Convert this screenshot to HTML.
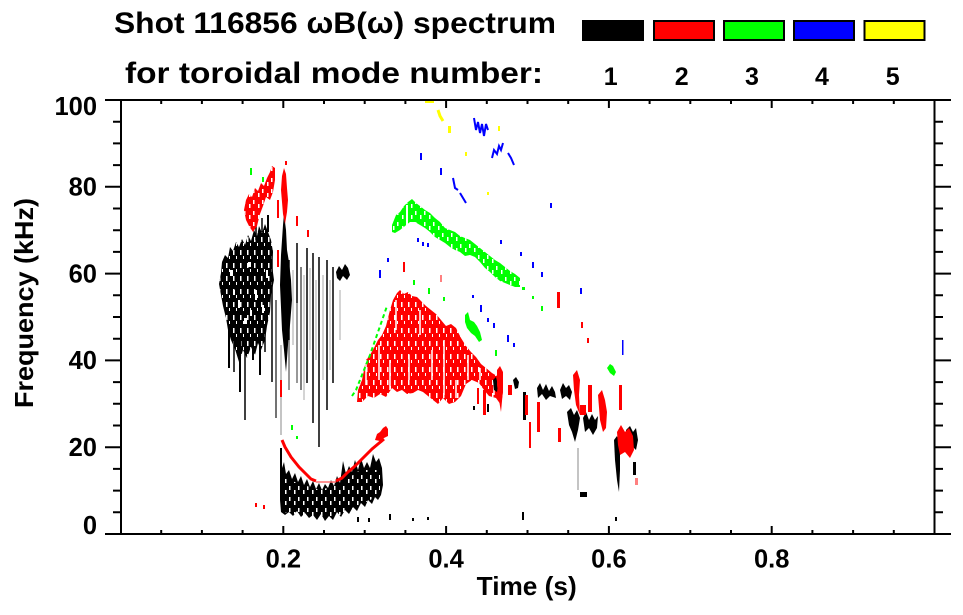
<!DOCTYPE html>
<html><head><meta charset="utf-8"><style>
html,body{margin:0;padding:0;background:#fff;}
svg{display:block;}
text{font-family:"Liberation Sans",Arial,sans-serif;font-weight:bold;fill:#000;}
</style></head><body>
<svg width="963" height="615" viewBox="0 0 963 615" xmlns="http://www.w3.org/2000/svg">
<defs>
<pattern id="speck" width="7" height="13" patternUnits="userSpaceOnUse">
<rect x="2" y="3" width="1.5" height="5" fill="#fff"/>
<rect x="5" y="9" width="1" height="3" fill="#fff"/>
</pattern>
<pattern id="speck2" width="9" height="11" patternUnits="userSpaceOnUse">
<rect x="1" y="2" width="1.5" height="4" fill="#fff"/>
<rect x="6" y="6" width="1.5" height="4" fill="#fff"/>
</pattern>
</defs>
<rect width="963" height="615" fill="#fff"/>

<!-- ===== DATA ===== -->
<!-- black blob A -->
<polygon fill="#000" points="222,262 225,255 228,258 230,247 233,251 236,242 239,247 242,239 245,245 248,235 251,241 254,230 257,236 259,226 262,233 265,224 268,232 271,240 273,252 272,265 274,280 271,295 270,312 267,326 265,340 261,350 258,343 255,355 251,347 247,358 243,350 239,362 235,349 231,340 228,330 226,318 223,306 221,295 219,284 221,273"/>
<polygon fill="url(#speck)" points="222,262 225,255 228,258 230,247 233,251 236,242 239,247 242,239 245,245 248,235 251,241 254,230 257,236 259,226 262,233 265,224 268,232 271,240 273,252 272,265 274,280 271,295 270,312 267,326 265,340 261,350 258,343 255,355 251,347 247,358 243,350 239,362 235,349 231,340 228,330 226,318 223,306 221,295 219,284 221,273"/>
<g fill="#fff">
<rect x="230" y="270" width="3" height="6"/><rect x="238" y="300" width="2" height="8"/><rect x="248" y="262" width="3" height="5"/>
<rect x="255" y="290" width="2" height="10"/><rect x="262" y="305" width="2" height="8"/><rect x="244" y="318" width="3" height="6"/>
<rect x="233" y="290" width="2" height="5"/><rect x="266" y="270" width="2" height="8"/><rect x="250" y="310" width="2" height="6"/>
</g>
<g stroke="#000" fill="none">
<path d="M229,330V368M240,340V392M253,340V360M260,335V375" stroke-width="2"/>
<path d="M234,340V372M245,345V420M265,330V352M272,250V382M256,222V240M262,218V232" stroke-width="1.5"/>
<path d="M268,215V232" stroke-width="2"/>
<path d="M276,300V418" stroke-width="1.5" stroke="#444"/>
</g>
<!-- black column t=0.2 -->
<polygon fill="#000" points="280,285 281,255 283,225 284,214 286,230 287,250 289,262 291,280 292,300 290,325 288,345 286,372 284,350 282,330"/>
<path d="M281,345V435" stroke="#888" stroke-width="1" fill="none"/>
<!-- comb lines -->
<g fill="none" stroke-width="1.5">
<path d="M289,260V340M297,243V303M307,248V383M313,253V423M319,257V447M327,260V410M333,267V383" stroke="#000"/>
<path d="M289,340V390M297,303V383" stroke="#777"/>
<path d="M301,267V390" stroke="#555"/>
<path d="M293,270V345M304,275V400M310,268V350M316,280V360M323,275V380M330,280V370M340,290V340" stroke="#aaa" stroke-width="1"/>
</g>
<polygon fill="#000" points="336,272 339,266 342,270 345,264 348,268 350,275 347,280 343,276 340,281 337,278"/>

<!-- black low band -->
<polygon fill="#000" points="280,448 282,448 282,468 284,462 286,474 289,470 292,479 295,473 298,482 301,476 304,485 307,479 310,487 313,481 316,489 319,483 322,490 325,484 328,488 331,480 334,486 337,476 340,483 343,461 346,474 349,466 352,472 355,460 358,470 361,458 364,468 367,462 370,468 373,454 376,462 379,458 382,468 383,485 381,495 378,500 375,497 372,504 368,500 365,507 361,503 357,511 353,507 349,514 345,510 341,517 337,512 333,520 329,516 325,521 321,514 317,520 313,515 309,518 305,513 301,517 297,511 293,516 289,512 285,515 281,512 280,500"/>
<polygon fill="url(#speck2)" points="284,478 300,484 320,490 340,484 360,470 380,470 380,495 360,505 340,515 320,518 300,515 284,512"/>

<!-- red arc -->
<g fill="none" stroke="#f00" stroke-linejoin="round">
<path d="M282,440 L285,447 288,452 291,457 295,462 299,467 303,471 307,475 311,479 316,481" stroke-width="3"/>
<path d="M316,482 L336,482" stroke-width="1.5" stroke="#ff7070"/>
<path d="M336,481 L342,478 348,472 354,467 360,461 366,455 372,449 378,444 384,439" stroke-width="3"/>
</g>
<polygon fill="#f00" points="375,440 377,434 380,432 383,428 386,426 388,429 388,436 384,438 380,441"/>

<!-- red early cluster -->
<polygon fill="#f00" points="244,210 246,200 249,194 252,197 255,188 258,191 261,183 264,186 267,178 270,172 272,166 275,168 275,180 273,192 270,200 266,197 263,206 260,214 257,226 253,232 249,226 246,220"/>
<polygon fill="url(#speck2)" points="244,210 246,200 249,194 252,197 255,188 258,191 261,183 264,186 267,178 270,172 272,166 275,168 275,180 273,192 270,200 266,197 263,206 260,214 257,226 253,232 249,226 246,220"/>
<polygon fill="#f00" points="281,190 282,176 284,168 286,174 287,188 288,200 287,212 285,224 283,214 282,202"/>
<g fill="#f00">
<rect x="285" y="161" width="2" height="4"/><rect x="296" y="216" width="2" height="10"/><rect x="307" y="230" width="2" height="7"/>
<rect x="277" y="200" width="2" height="18"/><rect x="277" y="250" width="2" height="17"/><rect x="280" y="380" width="2" height="17"/>
<rect x="255" y="503" width="2" height="4"/><rect x="263" y="505" width="2" height="4"/>
</g>

<!-- red main blob -->
<polygon fill="#f00" points="357,402 358,390 362,380 366,360 370,355 374,348 378,340 382,335 386,326 390,310 393,300 397,293 400,290 404,294 408,292 412,296 417,297 421,301 426,306 431,310 436,314 441,320 446,326 451,324 456,328 461,338 466,346 471,352 476,357 481,364 486,368 492,373 497,376 502,383 503,392 501,405 496,398 489,396 484,390 479,383 472,380 466,384 461,396 455,402 449,404 443,398 438,404 433,400 428,396 423,392 418,390 413,393 407,394 402,390 397,392 392,388 386,397 380,394 374,398 368,396 362,402"/>
<polygon fill="url(#speck)" points="357,402 358,390 362,380 366,360 370,355 374,348 378,340 382,335 386,326 390,310 393,300 397,293 400,290 404,294 408,292 412,296 417,297 421,301 426,306 431,310 436,314 441,320 446,326 451,324 456,328 461,338 466,346 471,352 476,357 481,364 486,368 492,373 497,376 502,383 503,392 501,405 496,398 489,396 484,390 479,383 472,380 466,384 461,396 455,402 449,404 443,398 438,404 433,400 428,396 423,392 418,390 413,393 407,394 402,390 397,392 392,388 386,397 380,394 374,398 368,396 362,402"/>
<path fill="none" stroke="#fff" stroke-width="1.5" d="M366,360V385M379,345V380M390,360V390M396,300V330M409,355V380M420,310V335M432,350V380M444,340V395M456,380V398M468,355V380M480,368V380M494,380V395"/>

<!-- green band -->
<polygon fill="#0f0" points="392,225 396,215 400,212 404,206 408,202 412,199 416,203 420,206 425,210 430,213 435,218 440,222 445,228 450,230 455,232 460,236 465,238 470,240 475,244 480,248 485,252 490,256 495,260 500,263 505,267 510,271 515,274 520,278 520,287 515,287 510,285 505,283 500,281 495,277 490,272 485,268 480,262 475,257 470,255 465,256 460,252 455,250 450,247 445,243 440,240 435,237 430,232 425,228 420,225 415,222 410,222 405,226 400,230 395,233 392,232"/>
<polygon fill="url(#speck2)" points="392,225 396,215 400,212 404,206 408,202 412,199 416,203 420,206 425,210 430,213 435,218 440,222 445,228 450,230 455,232 460,236 465,238 470,240 475,244 480,248 485,252 490,256 495,260 500,263 505,267 510,271 515,274 520,278 520,287 515,287 510,285 505,283 500,281 495,277 490,272 485,268 480,262 475,257 470,255 465,256 460,252 455,250 450,247 445,243 440,240 435,237 430,232 425,228 420,225 415,222 410,222 405,226 400,230 395,233 392,232"/>
<path d="M407,205V228" stroke="#fff" stroke-width="2"/>
<path d="M352,396 L356,390 362,375 370,355 378,332 387,306" fill="none" stroke="#0f0" stroke-width="2" stroke-dasharray="4 3"/>
<polygon fill="#0f0" points="465,315 468,312 470,320 474,322 477,326 480,332 482,340 479,342 475,336 471,333 467,328 465,322"/>
<polygon fill="#0f0" points="607,368 610,364 613,366 616,372 614,376 610,373"/>
<g fill="#0f0">
<rect x="413" y="280" width="2" height="5"/><rect x="428" y="288" width="2" height="6"/><rect x="443" y="297" width="2" height="4"/>
<rect x="495" y="350" width="2" height="6"/><rect x="522" y="287" width="3" height="3"/><rect x="532" y="296" width="2" height="3"/>
<rect x="541" y="306" width="2" height="5"/><rect x="250" y="168" width="2" height="7"/><rect x="262" y="177" width="2" height="5"/>
<rect x="291" y="425" width="2" height="5"/><rect x="296" y="436" width="2" height="3"/>
</g>

<!-- blue -->
<g fill="none" stroke="#00f" stroke-width="2">
<path d="M474,118 L476,130 478,122 480,133 482,124 484,136 486,124 488,130"/>
<path d="M492,158 L494,150 497,154 499,146 501,150 503,143"/>
<path d="M508,153 L511,158 514,165"/>
<path d="M453,178 L455,188 458,190M460,193 L463,198 466,203"/>
</g>
<g fill="#00f">
<rect x="420" y="153" width="2" height="7"/><rect x="440" y="168" width="2" height="7"/><rect x="550" y="203" width="2" height="5"/>
<rect x="417" y="238" width="2" height="4"/><rect x="422" y="242" width="2" height="4"/><rect x="427" y="243" width="2" height="4"/>
<rect x="500" y="240" width="2" height="4"/><rect x="520" y="252" width="2" height="4"/><rect x="532" y="262" width="2" height="6"/>
<rect x="541" y="272" width="2" height="5"/><rect x="580" y="288" width="2" height="6"/><rect x="472" y="295" width="2" height="3"/>
<rect x="480" y="305" width="2" height="7"/><rect x="487" y="318" width="2" height="4"/><rect x="493" y="323" width="2" height="5"/>
<rect x="507" y="335" width="2" height="7"/><rect x="513" y="343" width="2" height="4"/><rect x="622" y="340" width="1.5" height="15"/>
<rect x="379" y="270" width="2" height="8"/><rect x="387" y="258" width="2" height="4"/>
</g>

<!-- yellow -->
<g fill="#ff0">
<rect x="425" y="99" width="9" height="4"/>
<rect x="448" y="126" width="3" height="7"/><rect x="498" y="126" width="2" height="5"/>
<rect x="465" y="152" width="2" height="4"/><rect x="487" y="192" width="2" height="3"/>
</g>
<path d="M438,110 L440,116 443,121" fill="none" stroke="#ff0" stroke-width="3"/>

<!-- black right-mid -->
<g fill="#000">
<polygon points="513,380 516,377 519,382 518,388 515,389"/>
<polygon points="493,380 496,377 498,385 497,392 494,390"/>
<rect x="523" y="392" width="3" height="28"/>
<polygon points="537,388 540,383 543,390 546,384 549,391 552,386 555,392 556,398 550,396 546,400 542,394 538,398"/>
<polygon points="560,390 563,383 566,388 569,385 572,392 570,400 566,396 562,399"/>
<polygon points="567,412 571,408 574,415 577,410 580,418 578,430 575,442 572,432 569,425"/>
<polygon points="583,418 586,412 589,420 592,414 595,420 598,416 597,428 593,435 589,428 585,432"/>
<polygon points="614,440 617,436 620,445 620,470 619,492 617,480 615,460"/>
<polygon points="626,430 630,426 633,432 636,428 638,440 636,450 632,446 628,448"/>
<rect x="633" y="462" width="3" height="13"/>
<rect x="580" y="492" width="7" height="5"/>
<rect x="473" y="406" width="2" height="4"/><rect x="487" y="404" width="2" height="8"/>
<rect x="357" y="517" width="2" height="5"/><rect x="368" y="518" width="2" height="4"/><rect x="389" y="514" width="2" height="6"/>
<rect x="412" y="518" width="2" height="3"/><rect x="427" y="517" width="2" height="3"/><rect x="522" y="512" width="2" height="8"/>
<rect x="615" y="517" width="2" height="4"/>
</g>
<path d="M578,448V490" stroke="#888" stroke-width="1" fill="none"/>

<!-- red right-mid -->
<g fill="#f00">
<polygon points="497,370 500,366 503,372 503,390 501,412 499,400 497,385"/>
<rect x="508" y="385" width="4" height="10"/>
<rect x="525" y="395" width="3" height="20"/>
<rect x="529" y="422" width="2" height="26"/>
<rect x="537" y="402" width="3" height="30"/>
<rect x="558" y="428" width="3" height="14"/>
<polygon points="573,375 577,370 580,380 579,395 580,415 576,405 574,390"/>
<rect x="580" y="405" width="6" height="10"/>
<rect x="588" y="385" width="4" height="27"/>
<polygon points="598,395 602,390 605,400 607,412 606,428 603,432 600,420"/>
<polygon points="617,432 621,425 625,432 629,428 633,436 634,450 630,458 625,452 620,455 618,445"/>
<rect x="619" y="385" width="3" height="25"/>
<rect x="557" y="292" width="3" height="16"/>
<rect x="581" y="322" width="2" height="6"/><rect x="587" y="338" width="2" height="5"/>
<rect x="403" y="262" width="2" height="10"/>
<rect x="483" y="390" width="3" height="25"/><rect x="477" y="388" width="2" height="16"/>
</g>
<g fill="#ff8080"><rect x="635" y="478" width="3" height="7"/><rect x="440" y="275" width="2" height="7"/></g>

<!-- ===== AXES ===== -->
<g stroke="#000" stroke-width="2" fill="none">
<path d="M105,100H951M105,534H951M121,100V534M934.5,100V534"/>
<path d="M105,186.8H121M105,273.6H121M105,360.4H121M105,447.2H121"/>
<path d="M934.5,186.8H951M934.5,273.6H951M934.5,360.4H951M934.5,447.2H951"/>
<path d="M113,512.3H121M113,490.6H121M113,468.9H121M113,425.5H121M113,403.8H121M113,382.1H121M113,338.7H121M113,317H121M113,295.3H121M113,251.9H121M113,230.2H121M113,208.5H121M113,165.1H121M113,143.4H121M113,121.7H121"/>
<path d="M934.5,512.3H943M934.5,490.6H943M934.5,468.9H943M934.5,425.5H943M934.5,403.8H943M934.5,382.1H943M934.5,338.7H943M934.5,317H943M934.5,295.3H943M934.5,251.9H943M934.5,230.2H943M934.5,208.5H943M934.5,165.1H943M934.5,143.4H943M934.5,121.7H943"/>
<path d="M161.2,534V530M201.9,534V530M242.6,534V530M324,534V530M364.7,534V530M405.4,534V530M486.8,534V530M527.5,534V530M568.2,534V530M649.6,534V530M690.3,534V530M731,534V530M812.4,534V530M853.1,534V530M893.8,534V530"/>
<path d="M283.3,534V526M446.1,534V526M608.9,534V526M771.7,534V526"/>
<path d="M161.2,100V104M201.9,100V104M242.6,100V104M324,100V104M364.7,100V104M405.4,100V104M486.8,100V104M527.5,100V104M568.2,100V104M649.6,100V104M690.3,100V104M731,100V104M812.4,100V104M853.1,100V104M893.8,100V104"/>
<path d="M283.3,100V108M446.1,100V108M608.9,100V108M771.7,100V108"/>
</g>

<!-- tick labels -->
<g font-size="25.5" text-anchor="end">
<text x="97" y="115">100</text>
<text x="97" y="195.5">80</text>
<text x="97" y="282.3">60</text>
<text x="97" y="369">40</text>
<text x="97" y="456">20</text>
<text x="97" y="534">0</text>
</g>
<g font-size="25.5" text-anchor="middle">
<text x="283.3" y="567.5">0.2</text>
<text x="446.1" y="567.5">0.4</text>
<text x="608.9" y="567.5">0.6</text>
<text x="771.7" y="567.5">0.8</text>
</g>

<!-- axis titles -->
<text x="476.7" y="595" font-size="26" textLength="100" lengthAdjust="spacingAndGlyphs">Time (s)</text>
<text transform="translate(33,408) rotate(-90)" x="0" y="0" font-size="26" textLength="210" lengthAdjust="spacingAndGlyphs">Frequency (kHz)</text>

<!-- title -->
<text x="114" y="33" font-size="30" textLength="442" lengthAdjust="spacingAndGlyphs">Shot 116856 ωB(ω) spectrum</text>
<text x="125" y="83" font-size="30" textLength="418" lengthAdjust="spacingAndGlyphs">for toroidal mode number:</text>

<!-- legend -->
<rect x="582" y="20" width="62" height="21" fill="#000"/>
<g stroke="#000" stroke-width="2">
<rect x="654" y="21" width="60" height="19" fill="#f00"/>
<rect x="724" y="21" width="60" height="19" fill="#0f0"/>
<rect x="794" y="21" width="60" height="19" fill="#00f"/>
<rect x="864.5" y="21" width="60" height="19" fill="#ff0"/>
</g>
<g font-size="25" text-anchor="middle">
<text x="610.7" y="85">1</text>
<text x="681.7" y="85">2</text>
<text x="752" y="85">3</text>
<text x="822" y="85">4</text>
<text x="892.7" y="85">5</text>
</g>
</svg>
</body></html>
